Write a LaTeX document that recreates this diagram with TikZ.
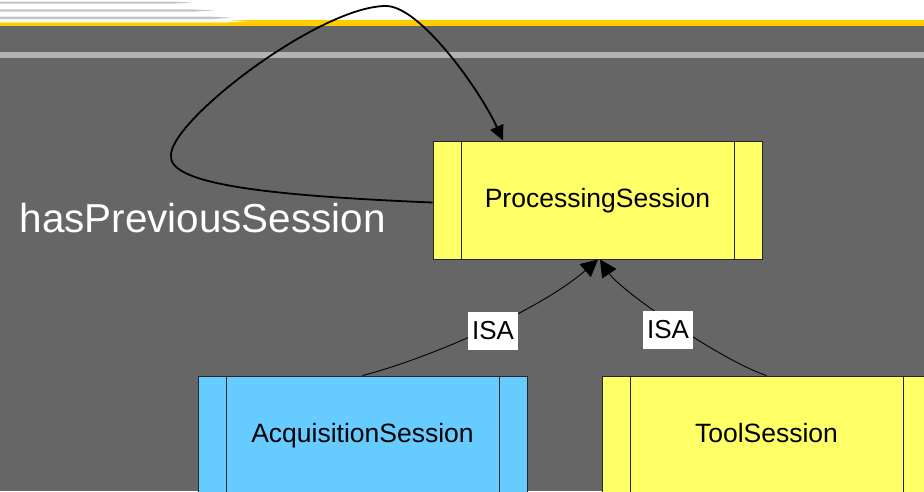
\documentclass[tikz,border=0pt]{standalone}
\usepackage{fontspec}
\setmainfont{Liberation Sans}
\usetikzlibrary{arrows.meta}
\definecolor{slidegray}{HTML}{666666}
\definecolor{stripegray}{HTML}{B2B2B2}
\definecolor{bandyellow}{HTML}{FFCC00}
\definecolor{classyellow}{HTML}{FFFF66}
\definecolor{classblue}{HTML}{66CCFF}
\definecolor{rulegray}{HTML}{C4C4C4}
\tikzset{
  classbox/.style={draw=black!85, line width=0.9pt, minimum width=329pt,
    minimum height=118pt, inner sep=0pt, text height=20pt, text depth=5pt,
    font=\fontsize{26.5}{30}\selectfont,
    path picture={\draw[black!85, line width=0.9pt]
      ([xshift=28pt]path picture bounding box.north west) -- ([xshift=28pt]path picture bounding box.south west)
      ([xshift=-28pt]path picture bounding box.north east) -- ([xshift=-28pt]path picture bounding box.south east);}},
  isalabel/.style={fill=white, minimum width=50pt, minimum height=38pt,
    inner sep=0pt, font=\fontsize{26}{30}\selectfont},
  isaedge/.style={line width=0.9pt, -{Triangle[length=17pt,width=17pt]}},
  loopedge/.style={line width=1.8pt, -{Triangle[length=15pt,width=14pt]}},
}
\begin{document}
\begin{tikzpicture}[x=1pt,y=-1pt]
\useasboundingbox (0,0) rectangle (924,491);
\clip (0,0) rectangle (924,491);
% slide background and header band
\fill[white] (0,0) rectangle (924,26);
\fill[slidegray] (0,26) rectangle (924,491);
\fill[stripegray] (0,52) rectangle (924,58);
\fill[bandyellow] (0,20) rectangle (924,26);
% tapered header rules
\fill[rulegray] (0,1.5) -- (172,1.5) -- (192,2.6) -- (172,3.7) -- (0,3.7) -- cycle;
\fill[rulegray] (0,9.3) -- (192,9.3) -- (214,10.5) -- (192,11.7) -- (0,11.7) -- cycle;
\fill[rulegray] (0,16.7) -- (212,16.7) -- (234,17.8) -- (212,19) -- (0,19) -- cycle;
\fill[white!92!bandyellow] (0,20) -- (226,20) -- (248,21.2) -- (226,22.5) -- (0,22.5) -- cycle;

% classes
\node[classbox, fill=classyellow] (ps) at (597.5,200) {ProcessingSession};
\node[classbox, fill=classblue] (acq) at (362.5,435) {AcquisitionSession};
\node[classbox, fill=classyellow] (tool) at (766.5,435) {ToolSession};

% self relation
\node[text=white, font=\fontsize{40.4}{44}\selectfont, anchor=base west, inner sep=0pt]
  (prev) at (19.5,232) {hasPreviousSession};
\coordinate (lp) at (171,155);
\coordinate (tp) at (386,6);
\draw[loopedge] ([yshift=-2.5pt]ps.west) .. controls (250,195) and (168,182) .. (lp)
  .. controls (171,120) and (320,6) .. (tp)
  .. controls (420,6) and (480,90) .. ([xshift=-94.5pt]ps.north);

% generalisation edges
\draw[isaedge] (acq.north) .. controls (430,358) and (540,310) .. ([xshift=0.5pt]ps.south);
\draw[isaedge] (tool.north) .. controls (720,360) and (620,290) .. ([xshift=2.5pt]ps.south);
\node[isalabel] (isa1) at (493,331) {ISA};
\node[isalabel] (isa2) at (668,329.5) {ISA};
\end{tikzpicture}
\end{document}
